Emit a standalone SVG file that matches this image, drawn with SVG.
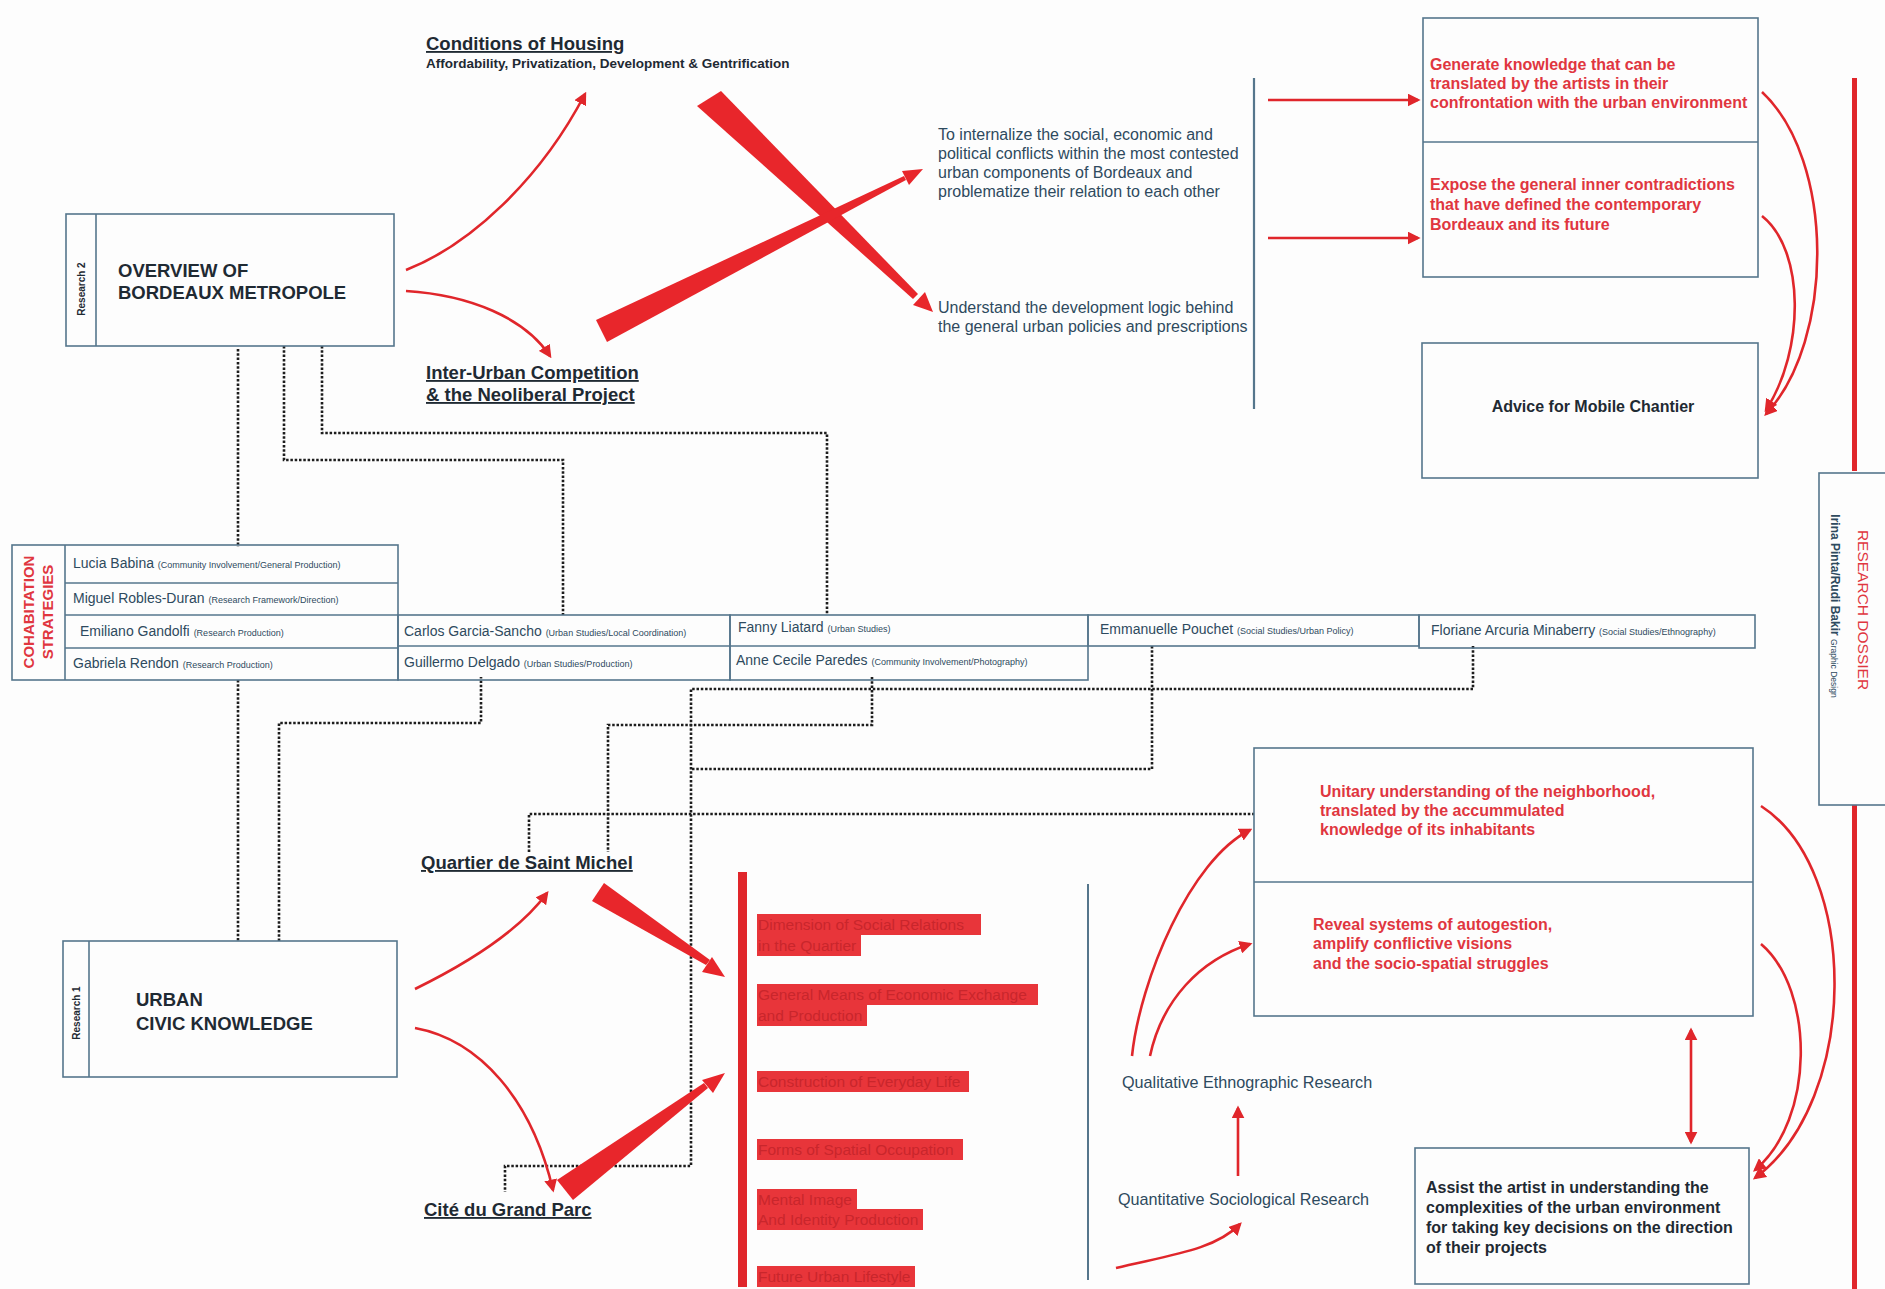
<svg xmlns="http://www.w3.org/2000/svg" width="1885" height="1289" viewBox="0 0 1885 1289">
<defs>
<marker id="ah" viewBox="0 0 10 10" refX="8" refY="5" markerWidth="5" markerHeight="5" orient="auto-start-reverse"><path d="M0,0 L10,5 L0,10 z" fill="#e0262b"/></marker>
<style>
.bx{fill:none;stroke:#55768c;stroke-width:1.6}
.ln{stroke:#55768c;stroke-width:1.6;fill:none}
.dot{fill:none;stroke:#1d1d1d;stroke-width:2.6;stroke-dasharray:2.5 1.8}
.arr{fill:none;stroke:#e0262b;stroke-width:2.6;marker-end:url(#ah)}
.brush{fill:#e8262b}
.t{font-family:"Liberation Sans",Arial,sans-serif;fill:#2e4a5e}
.h{font-family:"Liberation Sans",Arial,sans-serif;font-weight:bold;fill:#1f2a33}
.u{text-decoration:underline}
.r{font-family:"Liberation Sans",Arial,sans-serif;font-weight:bold;fill:#e0363f}
.nm{font-family:"Liberation Sans",Arial,sans-serif;font-size:14px;fill:#2e4a5e}
.rl{font-size:9px}
.hl{fill:#e8353a}
.hlt{font-family:"Liberation Sans",Arial,sans-serif;font-size:15.5px;fill:#c9262c}
</style>
</defs>
<rect width="1885" height="1289" fill="#fdfdfd"/>

<g id="connectors">
<path class="dot" d="M238,349 V547"/>
<path class="dot" d="M284,346 V460 H563 V615"/>
<path class="dot" d="M322,346 V433 H827 V615"/>
<path class="dot" d="M238,680 V941"/>
<path class="dot" d="M279,941 V723 H481 V677"/>
<path class="dot" d="M872,677 V725 H608 V852"/>
<path class="dot" d="M1152,646 V769 H691"/>
<path class="dot" d="M1473,646 V689 H691 V1166 H505 V1192"/>
<path class="dot" d="M529,852 V814 H1254"/>

<path class="arr" d="M406,270 C470,245 540,180 585,94"/>
<path class="arr" d="M406,291 C470,295 525,318 550,356"/>
<path class="arr" d="M415,989 C470,962 520,930 547,893"/>
<path class="arr" d="M415,1028 C480,1040 532,1100 553,1190"/>
<path class="arr" d="M1268,100 L1418,100"/>
<path class="arr" d="M1268,238 L1418,238"/>
<path class="arr" d="M1762,92 C1835,160 1835,340 1766,414"/>
<path class="arr" d="M1762,216 C1805,250 1805,350 1766,410"/>
<path class="arr" d="M1761,806 C1860,870 1860,1100 1755,1178"/>
<path class="arr" d="M1761,944 C1815,990 1815,1120 1755,1170"/>
<path class="arr" d="M1691,1030 L1691,1142" style="marker-start:url(#ah)"/>
<path class="arr" d="M1132,1056 C1140,980 1190,860 1250,830"/>
<path class="arr" d="M1150,1056 C1162,1000 1200,960 1250,944"/>
<path class="arr" d="M1238,1176 L1238,1108"/>
<path class="arr" d="M1116,1268 C1170,1255 1215,1250 1240,1224"/>

<path class="brush" d="M697,106 L721,91 L918,294 L913,299 Z"/>
<polygon class="brush" points="933,312 913,305 925,292"/>
<path class="brush" d="M596,320 L607,342 L906,180 L904,176 Z"/>
<polygon class="brush" points="923,169 909,185 902,171"/>
<path class="brush" d="M592,901 L604,883 L710,960 L706,965 Z"/>
<polygon class="brush" points="725,977 702,972 712,957"/>
<path class="brush" d="M557,1180 L573,1200 L708,1088 L704,1083 Z"/>
<polygon class="brush" points="725,1073 713,1093 702,1080"/>

<line class="ln" x1="1254" y1="78" x2="1254" y2="409" style="stroke-width:2.2"/>
<line class="ln" x1="1088" y1="884" x2="1088" y2="1280" style="stroke-width:2"/>
<rect x="1852" y="78" width="5" height="393" fill="#e0262b"/>
<rect x="1852" y="805" width="5" height="484" fill="#e0262b"/>
</g>

<g id="conditions-housing">
<text class="h u" x="426" y="50" font-size="18.5">Conditions of Housing</text>
<text class="h" x="426" y="68" font-size="13.5">Affordability, Privatization, Development &amp; Gentrification</text>
</g>

<g id="overview">
<rect class="bx" x="66" y="214" width="328" height="132"/>
<line class="ln" x1="96" y1="214" x2="96" y2="346"/>
<text class="h" font-size="10" text-anchor="middle" transform="translate(85,289) rotate(-90)">Research 2</text>
<text class="h" x="118" y="277" font-size="18.5">OVERVIEW OF</text>
<text class="h" x="118" y="299" font-size="18.5">BORDEAUX METROPOLE</text>
</g>

<g id="inter-urban">
<text class="h u" x="426" y="379" font-size="18.5">Inter-Urban Competition</text>
<text class="h u" x="426" y="401" font-size="18.5">&amp; the Neoliberal Project</text>
</g>

<g id="internalize">
<text class="t" font-size="16" x="938" y="140">To internalize the social, economic and</text>
<text class="t" font-size="16" x="938" y="159">political conflicts within the most contested</text>
<text class="t" font-size="16" x="938" y="178">urban components of Bordeaux and</text>
<text class="t" font-size="16" x="938" y="197">problematize their relation to each other</text>
</g>

<g id="understand">
<text class="t" font-size="16" x="938" y="313">Understand the development logic behind</text>
<text class="t" font-size="16" x="938" y="332">the general urban policies and prescriptions</text>
</g>

<g id="goals-top">
<rect class="bx" x="1423" y="18" width="335" height="259"/>
<line class="ln" x1="1423" y1="142" x2="1758" y2="142"/>
<text class="r" font-size="16" x="1430" y="70">Generate knowledge that can be</text>
<text class="r" font-size="16" x="1430" y="89">translated by the artists in their</text>
<text class="r" font-size="16" x="1430" y="108">confrontation with the urban environment</text>
<text class="r" font-size="16" x="1430" y="190">Expose the general inner contradictions</text>
<text class="r" font-size="16" x="1430" y="210">that have defined the contemporary</text>
<text class="r" font-size="16" x="1430" y="230">Bordeaux and its future</text>
</g>

<g id="advice">
<rect class="bx" x="1422" y="343" width="336" height="135"/>
<text class="h" font-size="16" x="1593" y="412" text-anchor="middle">Advice for Mobile Chantier</text>
</g>

<g id="dossier">
<rect class="bx" x="1819" y="473" width="70" height="332"/>
<text class="t" font-size="15.5" text-anchor="middle" transform="translate(1858,610) rotate(90)" style="fill:#e0363f">RESEARCH DOSSIER</text>
<text class="h" font-size="12" text-anchor="middle" transform="translate(1831,606) rotate(90)" style="fill:#2e4a5e">Irina Pinta/Rudi Bakir <tspan font-size="8.5" font-weight="normal">Graphic Design</tspan></text>
</g>

<g id="cohabitation">
<rect class="bx" x="12" y="545" width="386" height="135"/>
<line class="ln" x1="65" y1="545" x2="65" y2="680"/>
<line class="ln" x1="65" y1="583" x2="398" y2="583"/>
<line class="ln" x1="65" y1="615" x2="398" y2="615"/>
<line class="ln" x1="65" y1="648" x2="398" y2="648"/>
<text class="r" font-size="15" text-anchor="middle" transform="translate(34,612) rotate(-90)">COHABITATION</text>
<text class="r" font-size="15" text-anchor="middle" transform="translate(53,612) rotate(-90)">STRATEGIES</text>
<text class="nm" x="73" y="568">Lucia Babina <tspan class="rl">(Community Involvement/General Production)</tspan></text>
<text class="nm" x="73" y="603">Miguel Robles-Duran <tspan class="rl">(Research Framework/Direction)</tspan></text>
<text class="nm" x="80" y="636">Emiliano Gandolfi <tspan class="rl">(Research Production)</tspan></text>
<text class="nm" x="73" y="668">Gabriela Rendon <tspan class="rl">(Research Production)</tspan></text>
</g>

<g id="team-2">
<rect class="bx" x="398" y="615" width="332" height="65"/>
<line class="ln" x1="398" y1="646" x2="730" y2="646"/>
<text class="nm" x="404" y="636">Carlos Garcia-Sancho <tspan class="rl">(Urban Studies/Local Coordination)</tspan></text>
<text class="nm" x="404" y="667">Guillermo Delgado <tspan class="rl">(Urban Studies/Production)</tspan></text>
</g>

<g id="team-3">
<rect class="bx" x="730" y="615" width="358" height="65"/>
<line class="ln" x1="730" y1="646" x2="1088" y2="646"/>
<text class="nm" x="738" y="632">Fanny Liatard <tspan class="rl">(Urban Studies)</tspan></text>
<text class="nm" x="736" y="665">Anne Cecile Paredes <tspan class="rl">(Community Involvement/Photography)</tspan></text>
</g>

<g id="team-4">
<rect class="bx" x="1088" y="615" width="331" height="31"/>
<text class="nm" x="1100" y="634">Emmanuelle Pouchet <tspan class="rl">(Social Studies/Urban Policy)</tspan></text>
</g>

<g id="team-5">
<rect class="bx" x="1419" y="615" width="336" height="33"/>
<text class="nm" x="1431" y="635">Floriane Arcuria Minaberry <tspan class="rl">(Social Studies/Ethnography)</tspan></text>
</g>

<g id="quartier">
<text class="h u" x="421" y="869" font-size="18.5">Quartier de Saint Michel</text>
</g>

<g id="cite">
<text class="h u" x="424" y="1216" font-size="18.5">Cité du Grand Parc</text>
</g>

<g id="urban">
<rect class="bx" x="63" y="941" width="334" height="136"/>
<line class="ln" x1="89" y1="941" x2="89" y2="1077"/>
<text class="h" font-size="10" text-anchor="middle" transform="translate(80,1013) rotate(-90)">Research 1</text>
<text class="h" x="136" y="1006" font-size="18.5">URBAN</text>
<text class="h" x="136" y="1030" font-size="18.5">CIVIC KNOWLEDGE</text>
</g>

<g id="dimensions">
<rect x="738" y="872" width="9" height="415" fill="#e0262b"/>
<rect class="hl" x="757" y="914" width="224" height="21"/>
<rect class="hl" x="757" y="935" width="104" height="21"/>
<text class="hlt" x="758" y="930">Dimension of Social Relations</text>
<text class="hlt" x="758" y="951">in the Quartier</text>
<rect class="hl" x="757" y="984" width="281" height="21"/>
<rect class="hl" x="757" y="1005" width="110" height="21"/>
<text class="hlt" x="758" y="1000">General Means of Economic Exchange</text>
<text class="hlt" x="758" y="1021">and Production</text>
<rect class="hl" x="757" y="1071" width="212" height="21"/>
<text class="hlt" x="758" y="1087">Construction of Everyday Life</text>
<rect class="hl" x="757" y="1139" width="206" height="21"/>
<text class="hlt" x="758" y="1155">Forms of Spatial Occupation</text>
<rect class="hl" x="757" y="1189" width="100" height="20"/>
<rect class="hl" x="757" y="1209" width="166" height="21"/>
<text class="hlt" x="758" y="1205">Mental Image</text>
<text class="hlt" x="758" y="1225">And Identity Production</text>
<rect class="hl" x="757" y="1266" width="158" height="21"/>
<text class="hlt" x="758" y="1282">Future Urban Lifestyle</text>
</g>

<g id="qualitative">
<text class="t" font-size="16.2" x="1122" y="1088">Qualitative Ethnographic Research</text>
</g>
<g id="quantitative">
<text class="t" font-size="16.2" x="1118" y="1205">Quantitative Sociological Research</text>
</g>

<g id="goals-bottom">
<rect class="bx" x="1254" y="748" width="499" height="268"/>
<line class="ln" x1="1254" y1="882" x2="1753" y2="882"/>
<text class="r" font-size="16" x="1320" y="797">Unitary understanding of the neighborhood,</text>
<text class="r" font-size="16" x="1320" y="816">translated by the accummulated</text>
<text class="r" font-size="16" x="1320" y="835">knowledge of its inhabitants</text>
<text class="r" font-size="16" x="1313" y="930">Reveal systems of autogestion,</text>
<text class="r" font-size="16" x="1313" y="949">amplify conflictive visions</text>
<text class="r" font-size="16" x="1313" y="969">and the socio-spatial struggles</text>
</g>

<g id="assist">
<rect class="bx" x="1415" y="1148" width="334" height="136"/>
<text class="h" font-size="16" x="1426" y="1193">Assist the artist in understanding the</text>
<text class="h" font-size="16" x="1426" y="1213">complexities of the urban environment</text>
<text class="h" font-size="16" x="1426" y="1233">for taking key decisions on the direction</text>
<text class="h" font-size="16" x="1426" y="1253">of their projects</text>
</g>
</svg>
